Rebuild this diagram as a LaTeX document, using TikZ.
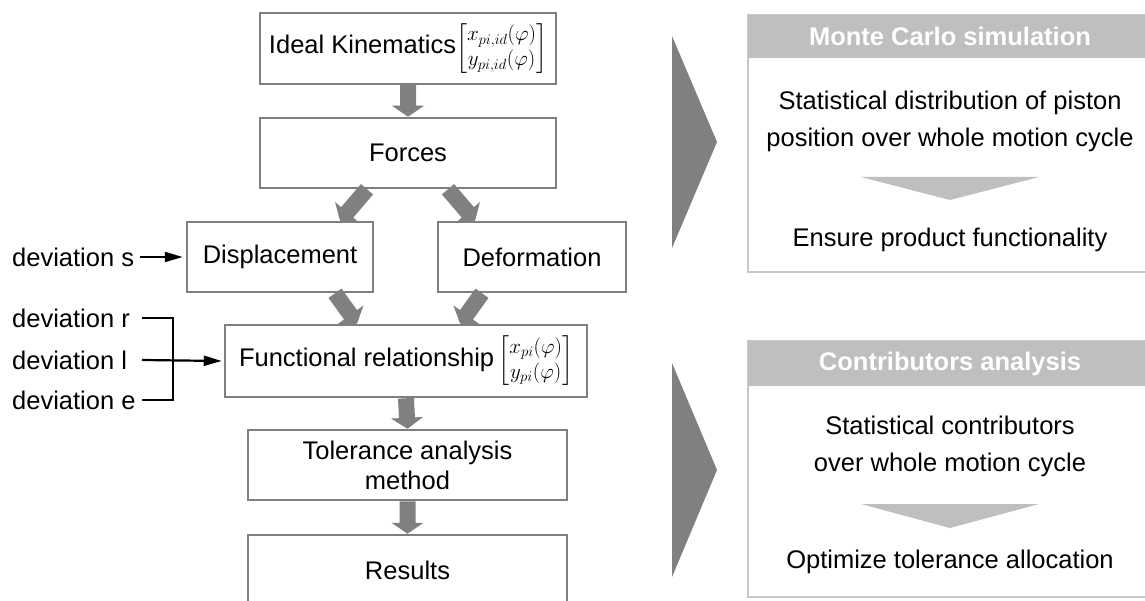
\RequirePackage{fix-cm}
\documentclass[tikz,border=0pt]{standalone}
\usepackage{amsmath}
\usepackage{fontspec}
\setmainfont{Liberation Sans}
\usetikzlibrary{arrows.meta,calc}
\definecolor{boxgray}{HTML}{7F7F7F}
\definecolor{arrowgray}{HTML}{808080}
\definecolor{panelgray}{HTML}{C8C8C8}
\definecolor{headgray}{HTML}{BFBFBF}
\newcommand\blkarrow[2]{%
  \fill[arrowgray] let \p1=(#1), \p2=(#2),
    \n1={atan2(\y2-\y1,\x2-\x1)}, \n2={veclen(\x2-\x1,\y2-\y1)} in
    [shift={(\p1)}, rotate=\n1]
    (0pt,-8pt) -- ({(\n2-11)*1pt},-8pt) -- ({(\n2-11)*1pt},-16pt) -- ({\n2*1pt},0pt)
    -- ({(\n2-11)*1pt},16pt) -- ({(\n2-11)*1pt},8pt) -- (0pt,8pt) -- cycle;}
\newcommand\matfont{\fontsize{21}{25}\selectfont}
\begin{document}
\begin{tikzpicture}[x=1pt,y=-1pt,
  every node/.style={font=\fontsize{25.5}{30}\selectfont, inner sep=0pt},
  flowbox/.style={draw=boxgray, line width=2.5pt, fill=white, align=center},
  panelbox/.style={draw=panelgray, line width=2.5pt, fill=white},
  panelhead/.style={fill=headgray, text=white, font=\fontsize{25.5}{30}\selectfont\bfseries},
  paneltext/.style={align=center, font=\fontsize{25.5}{37}\selectfont},
  devlabel/.style={anchor=west},
  devline/.style={draw=black, line width=2.2pt},
  devarrow/.style={devline, -{Triangle[length=18pt,width=10pt]}}
]
\useasboundingbox (0,0) rectangle (1145,601);
\clip (0,0) rectangle (1145,601);
\fill[white] (0,0) rectangle (1145,601);

% flow boxes
\node[flowbox, minimum width=296, minimum height=71] (ideal) at (408,48.5)
  {Ideal Kinematics{\matfont$\begin{bmatrix} x_{pi,id}(\varphi)\\ y_{pi,id}(\varphi)\end{bmatrix}$}};
\node[flowbox, minimum width=296, minimum height=70] (forces) at (408,153) {Forces};
\node[flowbox, minimum width=186, minimum height=70] (disp) at (280,257) {Displacement};
\node[flowbox, minimum width=188, minimum height=70] (deform) at (532,257) {Deformation};
\node[flowbox, minimum width=362, minimum height=72] (func) at (406,361)
  {Functional relationship\,{\matfont$\begin{bmatrix} x_{pi}(\varphi)\\ y_{pi}(\varphi)\end{bmatrix}$}};
\node[flowbox, minimum width=319, minimum height=70] (tol) at (407.5,465)
  {Tolerance analysis\\method};
\node[flowbox, minimum width=319, minimum height=70] (res) at (407.5,570) {Results};

% block arrows
\blkarrow{ideal.south}{forces.north}
\blkarrow{[xshift=-41pt]forces.south}{[xshift=60pt]disp.north}
\blkarrow{[xshift=40pt]forces.south}{[xshift=-57pt]deform.north}
\blkarrow{[xshift=55pt]disp.south}{[xshift=-49pt]func.north}
\blkarrow{[xshift=-50pt]deform.south}{[xshift=54pt]func.north}
\blkarrow{func.south}{tol.north}
\blkarrow{tol.south}{res.north}

% deviations
\node[devlabel] (devs) at (12,257) {deviation s};
\node[devlabel] (devr) at (12,318) {deviation r};
\node[devlabel] (devl) at (12,360) {deviation l};
\node[devlabel] (deve) at (12,400) {deviation e};
\coordinate (sS) at (140,257);
\coordinate (rS) at (142,318);
\coordinate (lS) at (142,360);
\coordinate (eS) at (142,400);
\draw[devarrow] (sS) -- ([xshift=-3pt]disp.west);
\draw[devline] (rS) -- ++(31,0) |- (eS);
\draw[devarrow] (lS) -- ([xshift=-2pt]func.west);

% chevrons
\fill[arrowgray] (672,36) -- (717,142) -- (672,248) -- cycle;
\fill[arrowgray] (672,363) -- (717,470) -- (672,577) -- cycle;

% panel 1
\node[panelbox, minimum width=404, minimum height=257] (mc) at (950,143.5) {};
\node[panelhead, minimum width=404, minimum height=43, anchor=north] (mchead) at ([yshift=-1.25pt]mc.north) {Monte Carlo simulation};
\node[paneltext] (mc1) at (950,121) {Statistical distribution of piston\\position over whole motion cycle};
\fill[headgray] (861,177) -- (1039,177) -- (950,200) -- cycle;
\node (mc2) at (950,240) {Ensure product functionality};

% panel 2
\node[panelbox, minimum width=404, minimum height=256] (ca) at (950,469) {};
\node[panelhead, minimum width=404, minimum height=45, anchor=north] (cahead) at ([yshift=-1.25pt]ca.north) {Contributors analysis};
\node[paneltext] (ca1) at (950,446.5) {Statistical contributors\\over whole motion cycle};
\fill[headgray] (861,504) -- (1039,504) -- (950,528) -- cycle;
\node (ca2) at (950,562) {Optimize tolerance allocation};
\end{tikzpicture}
\end{document}
